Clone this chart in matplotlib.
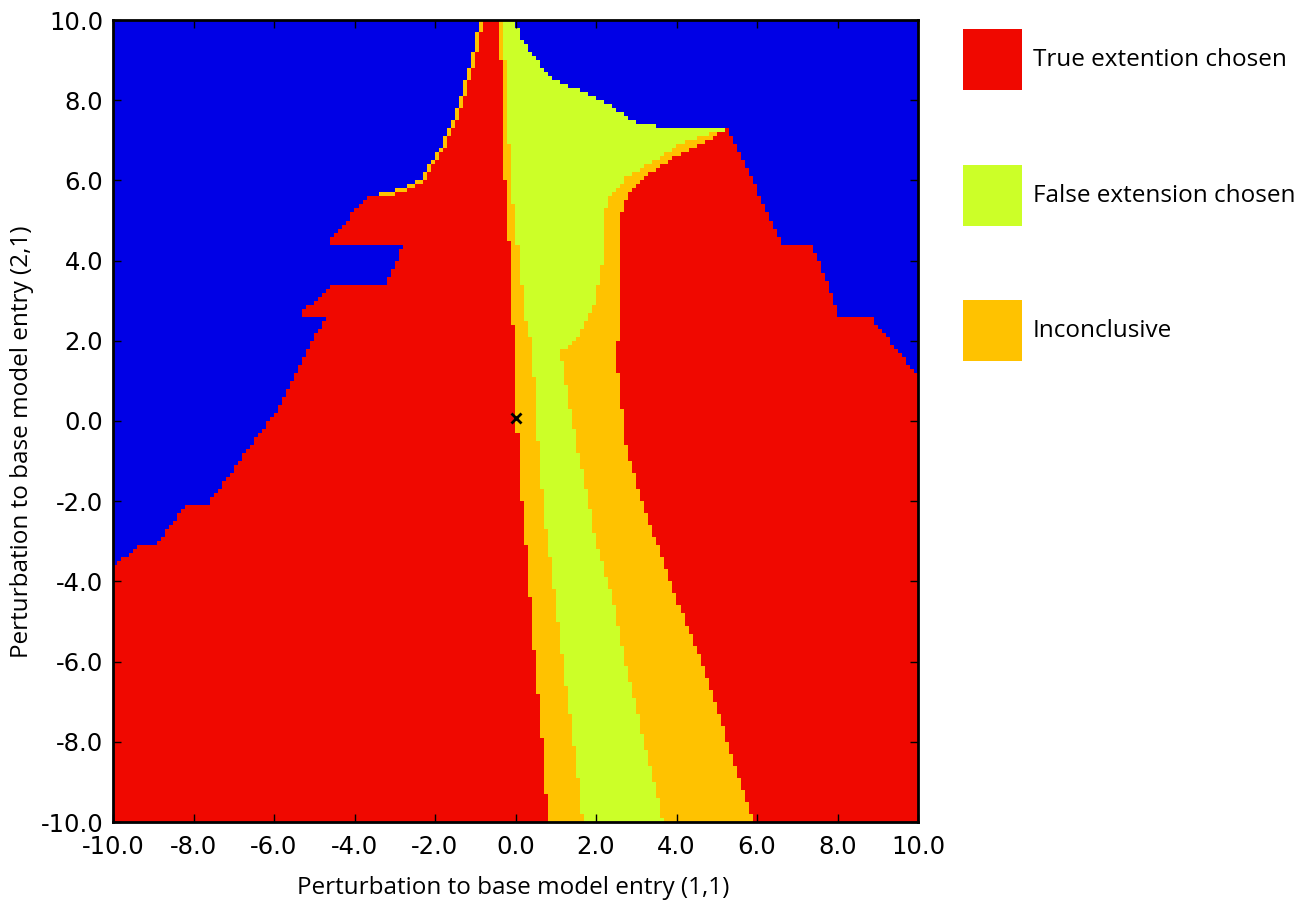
import numpy as np
import matplotlib
matplotlib.use("Agg")
import matplotlib.pyplot as plt
from matplotlib.colors import ListedColormap
from matplotlib.patches import Rectangle

# ---------------- data ----------------
categories = ["True extention chosen", "False extension chosen", "Inconclusive"]
class_colors = ["#0000e6", "#f00800", "#ccff28", "#ffc200"]  # blue(none), red, green, orange

x_ticks = [-10.0, -8.0, -6.0, -4.0, -2.0, 0.0, 2.0, 4.0, 6.0, 8.0, 10.0]
y_ticks = [-10.0, -8.0, -6.0, -4.0, -2.0, 0.0, 2.0, 4.0, 6.0, 8.0, 10.0]

# left blue -> red boundary
L1_y = [-10, -3.7, -3.63, -3.14, -3.12, -2.15, -2.13, 0.27, 1.1, 2.02, 2.59, 2.61, 2.73,
        3.43, 3.45, 4.36, 4.38, 4.51, 5.56, 5.62, 5.72, 5.78, 6.0, 6.93, 7.76, 8.59, 9.43, 10]
L1_x = [-10.5, -10.5, -10.0, -9.37, -8.94, -8.22, -7.69, -5.93, -5.48, -5.03, -4.69, -5.29, -5.29,
        -4.48, -3.24, -2.80, -4.61, -4.61, -3.70, -3.5, -3.1, -2.87, -2.37, -1.80, -1.46, -1.21, -1.0, -0.88]
# red -> left inconclusive band
L2_y = [-10, -9.0, -7.8, -6.6, -5.3, -4.1, -2.9, -2.4, -1.0, 0.4, 2.2, 2.8, 4.3, 5.5, 6.3, 8.9, 9.0, 10]
L2_x = [0.79, 0.73, 0.64, 0.53, 0.41, 0.33, 0.23, 0.17, 0.10, 0.0, -0.03, -0.10, -0.14, -0.22, -0.27, -0.30, -0.38, -0.40]
# left inconclusive -> false extension
L3_y = [-10, -7.8, -6.13, -4.46, -2.97, -2.5, -1.14, -0.1, 1.1, 1.94, 2.18, 2.98, 4.4, 5.4, 6.4, 7.0, 8.9, 9.0, 10]
L3_x = [1.67, 1.42, 1.19, 0.99, 0.79, 0.72, 0.60, 0.52, 0.45, 0.40, 0.30, 0.19, 0.05, -0.05, -0.10, -0.16, -0.18, -0.28, -0.30]
# false extension -> right inconclusive band
G_y = [-10, -7.8, -6.13, -4.46, -2.97, -1.97, -0.72, 0.52, 1.77, 1.8, 1.95, 2.18, 2.6, 3.02, 3.6,
       4.1, 5.1, 5.6, 6.09, 6.5, 6.93, 7.18, 7.27]
G_x = [3.68, 3.16, 2.76, 2.43, 1.98, 1.82, 1.53, 1.32, 1.10, 1.25, 1.42, 1.60, 1.80, 1.98, 2.10,
       2.19, 2.19, 2.36, 2.77, 3.51, 4.17, 4.83, 5.25]
# right inconclusive -> red
L5_y = [-10, -7.8, -6.13, -4.46, -2.8, -1.97, -1.14, -0.3, 0.3, 0.35, 1.1, 1.2, 1.97, 2.0, 3.02,
        4.0, 5.1, 5.6, 6.09, 6.5, 6.93, 7.27]
L5_x = [5.92, 5.20, 4.68, 4.01, 3.43, 3.14, 2.89, 2.68, 2.68, 2.60, 2.60, 2.50, 2.50, 2.56, 2.56,
        2.55, 2.60, 2.77, 3.26, 3.84, 4.66, 5.25]
# right red -> blue
R_y = [-10, 1.15, 1.2, 2.55, 2.58, 3.52, 4.39, 4.42, 5.6, 6.5, 7.27]
R_x = [10.5, 10.5, 9.95, 8.86, 8.06, 7.74, 7.37, 6.65, 6.07, 5.64, 5.25]
# top: false extension -> blue
T_y = [7.2, 7.27, 7.3, 7.42, 7.76, 8.09, 8.42, 8.59, 9.0, 9.43, 9.93, 10]
T_x = [5.25, 5.2, 3.9, 3.01, 2.51, 1.93, 1.19, 0.86, 0.52, 0.19, 0.0, 0.0]
tip_y = 7.27

base_point = (0.0, 0.07)

# ---------------- build class grid ----------------
step = 0.1
xs = np.arange(-10 + step / 2, 10, step)
ys = np.arange(-10 + step / 2, 10, step)
X, Y = np.meshgrid(xs, ys)

b0 = np.interp(ys, L1_y, L1_x)[:, None]
b1 = np.interp(ys, L2_y, L2_x)[:, None]
b2 = np.interp(ys, L3_y, L3_x)[:, None]
b3 = np.interp(ys, G_y, G_x)
b4 = np.interp(ys, L5_y, L5_x)
b5 = np.interp(ys, R_y, R_x)
top = np.interp(ys, T_y, T_x)
above = ys > tip_y
b3[above] = top[above]
b4[above] = top[above]
b5[above] = top[above]
b3, b4, b5 = b3[:, None], b4[:, None], b5[:, None]

cls = np.zeros(X.shape, dtype=int)
cls[(X >= b0) & (X < b1)] = 1
cls[(X >= b1) & (X < b2)] = 3
cls[(X >= b2) & (X < b3)] = 2
cls[(X >= b3) & (X < b4)] = 3
cls[(X >= b4) & (X < b5)] = 1

# thin inconclusive rim along the upper-left blue/red edge
red = cls == 1
blue = cls == 0
left_blue = np.zeros_like(blue)
left_blue[:, 1:] = blue[:, :-1]
up_blue = np.zeros_like(blue)
up_blue[:-1, :] = blue[1:, :]
rim = red & (left_blue | up_blue) & (Y > 5.55) & (X > -3.55) & (X < 0)
cls[rim] = 3

# ---------------- figure ----------------
fig = plt.figure(figsize=(13.10, 9.06), dpi=100)
ax = fig.add_axes([113 / 1310, 1 - 822 / 906, 805 / 1310, 802 / 906])
cmap = ListedColormap(class_colors)
ax.imshow(cls, origin="lower", extent=[-10, 10, -10, 10], cmap=cmap, vmin=-0.5, vmax=3.5,
          interpolation="nearest", aspect="auto")
ax.plot([base_point[0]], [base_point[1]], marker="x", color="black", markersize=7, mew=2, ls="none")

ax.set_xlim(-10, 10)
ax.set_ylim(-10, 10)
ax.set_xticks(x_ticks)
ax.set_yticks(y_ticks)
ax.set_xticklabels(["%.1f" % v for v in x_ticks])
ax.set_yticklabels(["%.1f" % v for v in y_ticks])
ax.tick_params(direction="in", length=6, width=1, top=True, right=True,
               labelsize=17.5, colors="black")
ax.tick_params(axis="x", pad=9)
ax.tick_params(axis="y", pad=7)
for s in ax.spines.values():
    s.set_linewidth(2)

lab_font = dict(family=["Open Sans", "DejaVu Sans"], size=17.5)
fig.text(513 / 1310, 1 - 888 / 906, "Perturbation to base model entry (1,1)",
         ha="center", va="center", **lab_font)
fig.text(22 / 1310, 1 - 442 / 906, "Perturbation to base model entry (2,1)",
         ha="center", va="center", rotation=90, **lab_font)

# legend
leg_tops = [29, 165, 300]
for name, col, t in zip(categories, class_colors[1:], leg_tops):
    fig.patches.append(Rectangle((963 / 1310, 1 - (t + 61) / 906), 59 / 1310, 61 / 906,
                                 transform=fig.transFigure, facecolor=col, edgecolor="none"))
    fig.text(1033 / 1310, 1 - (t + 31) / 906, name, ha="left", va="center",
             family=["Open Sans", "DejaVu Sans"], size=17.5)

fig.savefig("out.png", dpi=100)
